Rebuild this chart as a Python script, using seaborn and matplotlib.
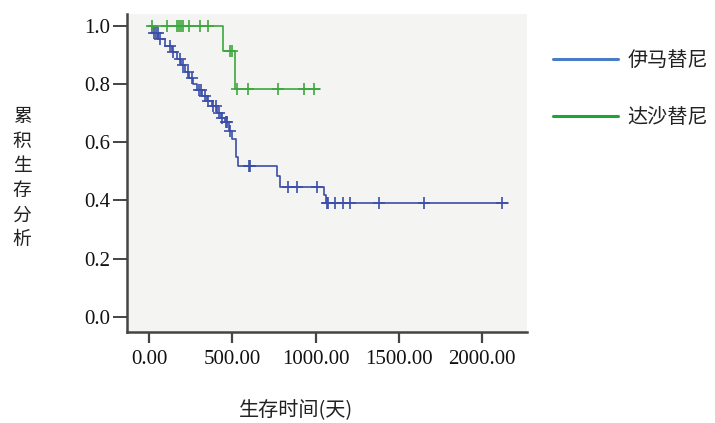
import numpy as np
import pandas as pd
import matplotlib
matplotlib.use("Agg")
import matplotlib.pyplot as plt
from matplotlib.lines import Line2D
import seaborn as sns

# ---- data ----
groups = ["伊马替尼", "达沙替尼"]

ima_step_days = [0, 20, 55, 95, 140, 165, 190, 215, 240, 265, 290, 320, 350, 380,
                 405, 430, 455, 478, 500, 520, 535, 770, 785, 1050, 1060]
ima_step_surv = [1.0, 0.977, 0.955, 0.932, 0.909, 0.886, 0.864, 0.841, 0.822, 0.80,
                 0.78, 0.76, 0.742, 0.725, 0.70, 0.685, 0.67, 0.64, 0.61, 0.55,
                 0.517, 0.483, 0.445, 0.42, 0.393]
ima_end_day = 2154
ima_censor_days = [30, 42, 52, 68, 128, 145, 185, 205, 235, 255, 300, 312, 335, 355,
                   385, 400, 420, 440, 462, 470, 488, 598, 605, 834, 888, 1008,
                   1066, 1074, 1116, 1166, 1206, 1382, 1652, 2116]

das_step_days = [0, 442, 516]
das_step_surv = [1.0, 0.914, 0.783]
das_end_day = 1025
das_censor_days = [20, 106, 170, 182, 192, 206, 240, 306, 352, 485, 495,
                   526, 596, 772, 932, 992]

x_ticks = [0, 500, 1000, 1500, 2000]
x_tick_labels = ["0.00", "500.00", "1000.00", "1500.00", "2000.00"]
y_ticks = [0.0, 0.2, 0.4, 0.6, 0.8, 1.0]
y_tick_labels = ["0.0", "0.2", "0.4", "0.6", "0.8", "1.0"]

line_colors = {"伊马替尼": "#3B4EA8", "达沙替尼": "#3DA63D"}
legend_colors = {"伊马替尼": "#4A7CC6", "达沙替尼": "#22A33A"}


def step_frame(days, surv, end_day):
    d = list(days) + [end_day]
    s = list(surv) + [surv[-1]]
    return pd.DataFrame({"day": d, "surv": s})


def censor_frame(step_days, step_surv, censor_days):
    idx = np.searchsorted(np.asarray(step_days), np.asarray(censor_days), side="right") - 1
    return pd.DataFrame({"day": censor_days, "surv": np.asarray(step_surv)[idx]})


sns.set_theme(style="white")
plt.rcParams["font.family"] = ["Liberation Serif", "Noto Sans CJK SC", "DejaVu Sans"]

fig = plt.figure(figsize=(7.15, 4.23), dpi=100)
fig.patch.set_facecolor("white")
ax = fig.add_axes([127 / 715, 1 - 332 / 423, 400 / 715, 318 / 423])
ax.set_facecolor("#F4F4F2")

series = [
    ("伊马替尼", ima_step_days, ima_step_surv, ima_end_day, ima_censor_days),
    ("达沙替尼", das_step_days, das_step_surv, das_end_day, das_censor_days),
]
for name, sd, ss, ed, cd in series:
    lf = step_frame(sd, ss, ed)
    sns.lineplot(data=lf, x="day", y="surv", ax=ax, color=line_colors[name],
                 drawstyle="steps-post", estimator=None, sort=False, lw=1.2,
                 legend=False)
    cf = censor_frame(sd, ss, cd)
    sns.scatterplot(data=cf, x="day", y="surv", ax=ax, marker="+", s=80,
                    color=line_colors[name], linewidth=1.2, legend=False, zorder=3)

ax.set_xlim(-132, 2268)
ax.set_ylim(-0.052, 1.041)
ax.set_xticks(x_ticks)
ax.set_xticklabels(x_tick_labels)
ax.set_yticks(y_ticks)
ax.set_yticklabels(y_tick_labels)
ax.set_xlabel("")
ax.set_ylabel("")

for sp in ["top", "right"]:
    ax.spines[sp].set_visible(False)
for sp in ["left", "bottom"]:
    ax.spines[sp].set_visible(True)
    ax.spines[sp].set_color("#444444")
    ax.spines[sp].set_linewidth(1.8)

ax.tick_params(axis="y", direction="out", length=10, width=1.4, color="#444444",
               labelsize=15, pad=2, left=True)
ax.tick_params(axis="x", direction="out", length=8, width=1.6, color="#444444",
               labelsize=15, pad=5, bottom=True)
for lbl in ax.get_xticklabels() + ax.get_yticklabels():
    lbl.set_color("#111111")

cjk = ["Noto Sans CJK SC", "DejaVu Sans"]
fig.text(22 / 715, 1 - 178 / 423, "累\n积\n生\n存\n分\n析", ha="center", va="center",
         fontsize=13.5, family=cjk, color="#222222", linespacing=1.22)
fig.text(296 / 715, 1 - 411 / 423, "生存时间(天)", ha="center", va="center",
         fontsize=14.5, family=cjk, color="#222222")

handles = [Line2D([0], [0], color=legend_colors[g], lw=2.2) for g in groups]
leg = fig.legend(handles, groups, loc="upper left",
                 bbox_to_anchor=(539 / 715, 1 - 36 / 423), frameon=False,
                 handlelength=3.2, handletextpad=0.5, labelspacing=1.8,
                 borderpad=0.2, prop={"family": cjk, "size": 14.5})
for t in leg.get_texts():
    t.set_color("#222222")

fig.savefig("out.png", dpi=100, facecolor="white")
